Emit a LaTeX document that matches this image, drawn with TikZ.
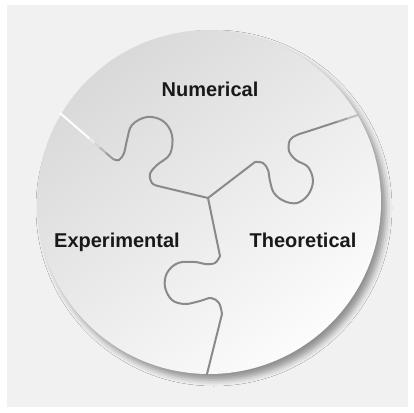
\documentclass[tikz,border=0pt]{standalone}
\usepackage{fontspec}
\setmainfont{Liberation Sans}
\usetikzlibrary{shadows.blur,calc}
\definecolor{bgcol}{HTML}{F1F1F1}
\definecolor{seamcol}{HTML}{8A8A8A}
\definecolor{diskdark}{HTML}{D9D9D9}
\definecolor{disklight}{HTML}{FCFCFC}
\begin{document}
\begin{tikzpicture}[x=1pt,y=-1pt,
  seam/.style={draw=seamcol, line width=2pt, line cap=round, line join=round},
  fadeseg/.style={line width=2pt},
  label/.style={font=\bfseries\fontsize{20}{22}\selectfont, text=black!90, inner sep=0pt, anchor=base}]
\useasboundingbox (0,0) rectangle (414,412);
\fill[white] (0,0) rectangle (414,412);
\fill[bgcol] (7,5) rectangle (408,407);
% disk
\shade[top color=diskdark, bottom color=disklight, shading angle=40,
  blur shadow={shadow xshift=5pt, shadow yshift=-6pt, shadow blur radius=6pt, shadow opacity=40}]
  (209,202) circle[radius=172];
% junction and seam ends
\coordinate (J) at (208,198);
\coordinate (E1) at (60,113);
\coordinate (E2) at (358,115);
\coordinate (E3) at (207,374);
\coordinate (A1) at (113,159);
\coordinate (B1) at (158,186);
\coordinate (A2) at (255,162);
\coordinate (B2) at (306,132);
\coordinate (A3) at (220,256);
\coordinate (B3) at (222,314);
% top-left knob (Numerical / Experimental)
\draw[seam] (A1) -- plot[smooth, tension=0.6] coordinates {(113,159) (119,160) (124,153) (127,140) (132,125) (147,117) (163,121) (172,135) (170,154) (157,165) (150,174) (152,183) (158,186)} -- (J);
% right knob (Numerical / Theoretical)
\draw[seam] (J) -- plot[smooth, tension=0.6] coordinates {(255,162) (263,163) (268,170) (270,181) (274,193) (284,201) (297,203) (308,195) (313,181) (308,167) (296,160) (289,151) (290,140) (297,135) (306,132)} -- ($(B2)!0.6!(E2)$);
\draw[fadeseg, seamcol!80] ($(B2)!0.6!(E2)$) -- ($(B2)!0.8!(E2)$);
\draw[fadeseg, seamcol!55] ($(B2)!0.8!(E2)$) -- (E2);
% bottom knob (Experimental / Theoretical)
\draw[seam] (J) -- plot[smooth, tension=0.6] coordinates {(220,256) (215,263) (205,264) (195,262) (178,263) (167,273) (165,287) (172,300) (185,304) (200,301) (211,298) (219,303) (222,314)} -- (E3);
% outer top-left segment (light, fading into gray)
\draw[fadeseg, white] (E1) -- ($(E1)!0.55!(A1)$);
\draw[fadeseg, seamcol!15] ($(E1)!0.55!(A1)$) -- ($(E1)!0.65!(A1)$);
\draw[fadeseg, seamcol!35] ($(E1)!0.65!(A1)$) -- ($(E1)!0.75!(A1)$);
\draw[fadeseg, seamcol!60] ($(E1)!0.75!(A1)$) -- ($(E1)!0.87!(A1)$);
\draw[fadeseg, seamcol!85, line cap=round] ($(E1)!0.87!(A1)$) -- (A1);
% labels
\node[label] (num) at (210,96) {Numerical};
\node[label] (exp) at (117,247) {Experimental};
\node[label] (the) at (303,247) {Theoretical};
\end{tikzpicture}
\end{document}
